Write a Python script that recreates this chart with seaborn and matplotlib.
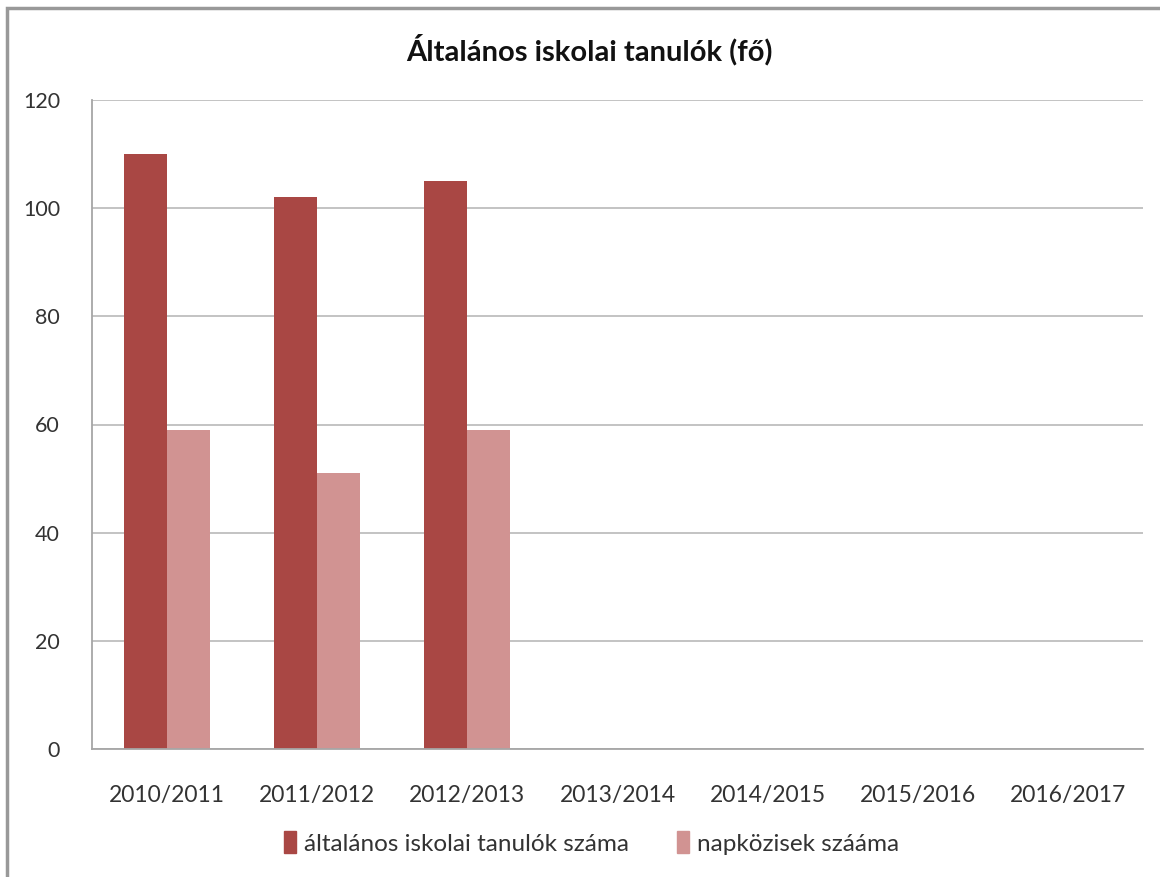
import matplotlib
matplotlib.use("Agg")
import matplotlib.pyplot as plt
import matplotlib.patches as mpatches
import pandas as pd
import seaborn as sns

years = ["2010/2011", "2011/2012", "2012/2013", "2013/2014",
         "2014/2015", "2015/2016", "2016/2017"]
tanulok = [110, 102, 105, None, None, None, None]
napkozisek = [59, 51, 59, None, None, None, None]
series_names = ["általános iskolai tanulók száma", "napközisek szááma"]
colors = ["#A94744", "#D19392"]

df = pd.DataFrame({
    "ev": years * 2,
    "ertek": tanulok + napkozisek,
    "sorozat": [series_names[0]] * len(years) + [series_names[1]] * len(years),
})

sns.set_style("white")
plt.rcParams["font.family"] = ["Lato", "DejaVu Sans"]

fig = plt.figure(figsize=(11.6, 8.77), dpi=100)
ax = fig.add_axes([92 / 1160, 1 - 749 / 877, (1143 - 92) / 1160, (749 - 100) / 877])

sns.barplot(data=df, x="ev", y="ertek", hue="sorozat", order=years,
            hue_order=series_names, palette=colors, width=0.572,
            saturation=1, linewidth=0, ax=ax, legend=False)

ax.set_xlim(-0.5, len(years) - 0.5)
ax.set_ylim(0, 120)
ax.set_yticks(range(0, 121, 20))
ax.set_xlabel("")
ax.set_ylabel("")
ax.set_axisbelow(True)
ax.yaxis.grid(True, color="#BEBEBE", linewidth=1.3)
ax.xaxis.grid(False)

for side in ["top", "right"]:
    ax.spines[side].set_visible(False)
for side in ["left", "bottom"]:
    ax.spines[side].set_color("#A6A6A6")
    ax.spines[side].set_linewidth(1.3)

# category boundary ticks on x, outward ticks on y
ax.set_xticks([i + 0.5 for i in range(-1, len(years))], minor=True)
ax.tick_params(axis="x", which="major", length=0, pad=26, labelsize=16.5)
ax.tick_params(axis="x", which="minor", length=7, width=1.3, color="#A6A6A6", direction="out")
ax.tick_params(axis="y", which="major", length=7, width=1.3, color="#A6A6A6",
               direction="out", pad=16, labelsize=15.5)
for lbl in ax.get_xticklabels() + ax.get_yticklabels():
    lbl.set_color("#333333")

fig.text(0.508, 1 - 50 / 877, "Általános iskolai tanulók (fő)", ha="center", va="center",
         fontsize=21, fontweight="bold", color="#111111")

handles = [mpatches.Patch(color=c, label=n) for c, n in zip(colors, series_names)]
fig.legend(handles=handles, loc="center", bbox_to_anchor=(0.51, 1 - 843 / 877), ncol=2,
           frameon=False, fontsize=17.5, handlelength=0.5, handleheight=1.0,
           handletextpad=0.3, columnspacing=2.0, labelcolor="#333333")

# chart border
fig.patches.append(mpatches.Rectangle((7 / 1160, -0.2), 1.2, 0.2 + 1 - 8 / 877,
                                      transform=fig.transFigure, fill=False,
                                      edgecolor="#999999", linewidth=2.5))

fig.savefig("out.png", dpi=100)
